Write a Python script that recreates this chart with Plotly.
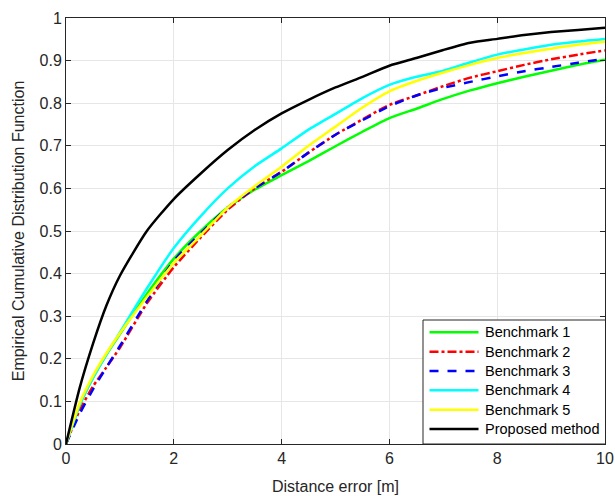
import plotly.graph_objects as go

x = [0, 0.25, 0.5, 0.75, 1, 1.5, 2, 2.5, 3, 3.5, 4, 4.5, 5, 5.5, 6, 6.5, 7, 7.5, 8, 8.5, 9, 9.5, 10]

bench1 = [0, 0.09, 0.155, 0.21, 0.258, 0.352, 0.435, 0.50, 0.555, 0.597, 0.631, 0.664, 0.699, 0.733, 0.765, 0.787, 0.81, 0.83, 0.847, 0.862, 0.876, 0.89, 0.902]
bench2 = [0, 0.078, 0.135, 0.18, 0.226, 0.33, 0.415, 0.485, 0.55, 0.60, 0.639, 0.684, 0.726, 0.762, 0.796, 0.818, 0.84, 0.86, 0.875, 0.89, 0.903, 0.914, 0.924]
bench3 = [0, 0.07, 0.128, 0.18, 0.23, 0.335, 0.43, 0.495, 0.555, 0.60, 0.639, 0.684, 0.726, 0.76, 0.793, 0.818, 0.836, 0.85, 0.863, 0.875, 0.885, 0.895, 0.904]
bench4 = [0, 0.09, 0.155, 0.21, 0.262, 0.365, 0.46, 0.535, 0.60, 0.652, 0.694, 0.738, 0.775, 0.812, 0.843, 0.862, 0.876, 0.896, 0.914, 0.926, 0.937, 0.945, 0.951]
bench5 = [0, 0.095, 0.16, 0.213, 0.26, 0.345, 0.425, 0.49, 0.555, 0.605, 0.651, 0.70, 0.745, 0.79, 0.828, 0.852, 0.872, 0.89, 0.906, 0.918, 0.928, 0.937, 0.944]
proposed = [0, 0.13, 0.235, 0.325, 0.395, 0.50, 0.575, 0.635, 0.69, 0.737, 0.776, 0.808, 0.837, 0.862, 0.888, 0.906, 0.925, 0.942, 0.951, 0.96, 0.967, 0.972, 0.977]

names = ["Benchmark 1", "Benchmark 2", "Benchmark 3", "Benchmark 4", "Benchmark 5", "Proposed method"]
series = [bench1, bench2, bench3, bench4, bench5, proposed]
colors = ["#00ff00", "#ff0000", "#0000ff", "#00ffff", "#ffff00", "#000000"]
dashes = ["solid", "dashdot", "dash", "solid", "solid", "solid"]

x_ticks = [0, 2, 4, 6, 8, 10]
y_ticks = [0, 0.1, 0.2, 0.3, 0.4, 0.5, 0.6, 0.7, 0.8, 0.9, 1]
y_tick_text = ["0", "0.1", "0.2", "0.3", "0.4", "0.5", "0.6", "0.7", "0.8", "0.9", "1"]

# figure geometry (pixels)
W, H = 615, 496
ML, MR, MT, MB = 66, 10, 18, 52
PW, PH = W - ML - MR, H - MT - MB


def px_to_paper_x(px):
    return (px - ML) / PW


def py_to_paper_y(py):
    return (H - MB - py) / PH


fig = go.Figure()
for name, ys, c, d in zip(names, series, colors, dashes):
    fig.add_trace(go.Scatter(x=x, y=ys, mode="lines", name=name, showlegend=False,
                             line=dict(color=c, width=2.5, dash=d, shape="spline", smoothing=0.6)))

# legend box drawn as layout shapes/annotations (MATLAB-style)
LEG_L, LEG_R, LEG_T, LEG_B = 423, 605.5, 320, 444
ROW0, ROW_STEP = 332.3, 19.35
LINE_X0, LINE_X1, TEXT_X = 429.5, 478.5, 483

shapes = [dict(type="rect", xref="paper", yref="paper",
               x0=px_to_paper_x(LEG_L), x1=px_to_paper_x(LEG_R),
               y0=py_to_paper_y(LEG_B), y1=py_to_paper_y(LEG_T),
               fillcolor="white", line=dict(color="#262626", width=1), layer="above")]
annotations = []
for i, (name, c, d) in enumerate(zip(names, colors, dashes)):
    yy = py_to_paper_y(ROW0 + i * ROW_STEP)
    shapes.append(dict(type="line", xref="paper", yref="paper",
                       x0=px_to_paper_x(LINE_X0), x1=px_to_paper_x(LINE_X1), y0=yy, y1=yy,
                       line=dict(color=c, width=2.5, dash=d), layer="above"))
    annotations.append(dict(xref="paper", yref="paper", x=px_to_paper_x(TEXT_X), y=yy,
                            text=name, showarrow=False, xanchor="left", yanchor="middle",
                            font=dict(family="Liberation Sans, Arial", size=14.5, color="#000000")))

axis_common = dict(
    showline=True, linecolor="#262626", linewidth=1, mirror="ticks",
    ticks="inside", ticklen=5, tickcolor="#262626",
    showgrid=True, gridcolor="#e6e6e6", gridwidth=1,
    zeroline=False, automargin=False,
    tickfont=dict(family="Liberation Sans, Arial", size=16, color="#262626"),
)

fig.update_layout(
    width=W, height=H,
    margin=dict(l=ML, r=MR, t=MT, b=MB),
    paper_bgcolor="white", plot_bgcolor="white",
    font=dict(family="Liberation Sans, Arial", color="#262626"),
    showlegend=False,
    shapes=shapes,
    annotations=annotations,
)
fig.update_xaxes(range=[0, 10], tickvals=x_ticks, ticktext=[str(t) for t in x_ticks],
                 title=dict(text="Distance error [m]", font=dict(size=16, color="#262626"), standoff=14),
                 **axis_common)
fig.update_yaxes(range=[0, 1], tickvals=y_ticks, ticktext=y_tick_text,
                 title=dict(text="Empirical Cumulative Distribution Function", font=dict(size=16, color="#262626"), standoff=10),
                 **axis_common)

fig.write_html("out.html")
